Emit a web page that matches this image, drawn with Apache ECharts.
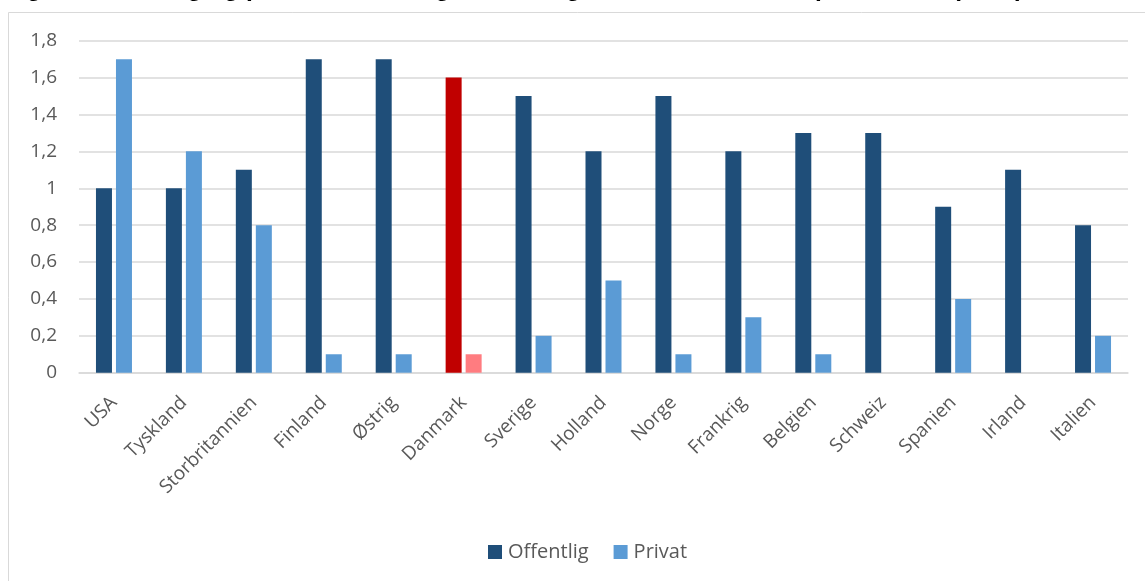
<!DOCTYPE html>
<html>
<head>
<meta charset="utf-8">
<script src="https://cdn.jsdelivr.net/npm/echarts@6/dist/echarts.min.js"></script>
<style>
  html, body { margin: 0; padding: 0; background: #ffffff; }
  #chart { width: 1145px; height: 581px; }
</style>
</head>
<body>
<div id="chart"></div>
<script>
// Offentlige og private udgifter til videregående uddannelse, pct. af BNP
const countries = ['USA', 'Tyskland', 'Storbritannien', 'Finland', 'Østrig', 'Danmark', 'Sverige',
  'Holland', 'Norge', 'Frankrig', 'Belgien', 'Schweiz', 'Spanien', 'Irland', 'Italien'];
const offentlig = [1.0, 1.0, 1.1, 1.7, 1.7, 1.6, 1.5, 1.2, 1.5, 1.2, 1.3, 1.3, 0.9, 1.1, 0.8];
const privat = [1.7, 1.2, 0.8, 0.1, 0.1, 0.1, 0.2, 0.5, 0.1, 0.3, 0.1, null, 0.4, null, 0.2];
const highlight = 'Danmark';
const titleText = 'Figur 1: Offentlig og privat investeringer i videregående uddannelse i pct. af BNP (2015)';

const DARK = '#1F4E79', LIGHT = '#5B9BD5', RED = '#C00000', PINK = '#FF7C80';
const FONT = '"Open Sans", sans-serif';

const fmt = v => String(+v.toFixed(1)).replace('.', ',');

const chart = echarts.init(document.getElementById('chart'), null, { renderer: 'canvas' });
chart.setOption({
  animation: false,
  backgroundColor: '#ffffff',
  graphic: [
    { type: 'rect', silent: true, z: -1,
      shape: { x: 8.5, y: 12.5, width: 1160, height: 600 },
      style: { fill: 'none', stroke: '#d9d9d9', lineWidth: 1 } },
    { type: 'text', left: 5, top: -23.5, silent: true,
      style: { text: titleText, fill: '#000000', font: 'bold 24.5px "Liberation Sans", Arial, sans-serif' } }
  ],
  grid: { left: 79, right: 17, top: 40.7, bottom: 208.3, containLabel: false },
  legend: {
    left: 483, top: 537, itemWidth: 14, itemHeight: 14, itemGap: 25,
    icon: 'rect',
    textStyle: { fontFamily: FONT, fontSize: 20, color: '#595959', padding: [0, 0, 0, 1] },
    data: ['Offentlig', 'Privat']
  },
  xAxis: {
    type: 'category', data: countries,
    axisLine: { lineStyle: { color: '#d9d9d9', width: 1.5 } },
    axisTick: { show: false },
    axisLabel: { rotate: 45, margin: 27, fontFamily: FONT, fontSize: 19, color: '#595959', interval: 0 }
  },
  yAxis: {
    type: 'value', min: 0, max: 1.8, interval: 0.2,
    axisLine: { show: false }, axisTick: { show: false },
    splitLine: { lineStyle: { color: '#d9d9d9', width: 1.5 } },
    axisLabel: { formatter: fmt, margin: 22, fontFamily: FONT, fontSize: 19, color: '#595959' }
  },
  series: [
    { name: 'Offentlig', type: 'bar', barWidth: 16, barGap: '25%',
      itemStyle: { color: DARK },
      data: offentlig.map((v, i) => countries[i] === highlight ? { value: v, itemStyle: { color: RED } } : v) },
    { name: 'Privat', type: 'bar', barWidth: 16, barGap: '25%',
      itemStyle: { color: LIGHT },
      data: privat.map((v, i) => countries[i] === highlight ? { value: v, itemStyle: { color: PINK } } : v) }
  ]
});
</script>
</body>
</html>
